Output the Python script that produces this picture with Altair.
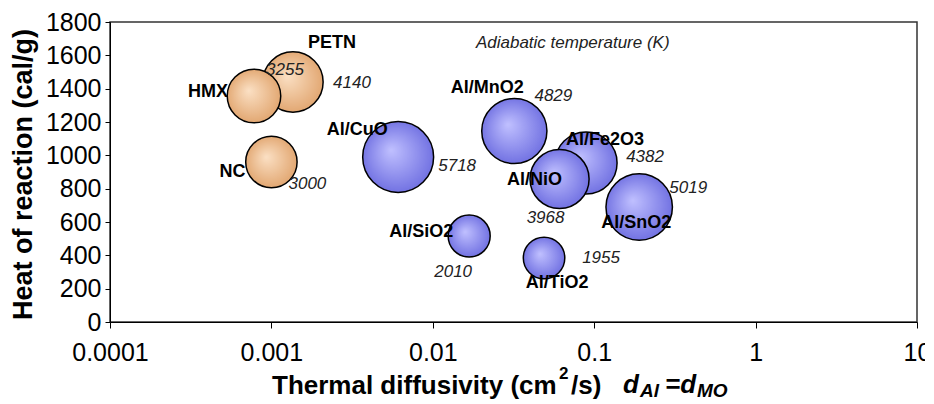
import altair as alt
import pandas as pd

# ---- data ----
names = ["PETN", "HMX", "NC", "Al/Fe2O3", "Al/MnO2", "Al/CuO", "Al/NiO", "Al/SnO2", "Al/SiO2", "Al/TiO2"]
diffusivity = [0.00136, 0.00078, 0.001, 0.089, 0.032, 0.0061, 0.061, 0.19, 0.0168, 0.0489]
heat = [1440, 1356, 960, 954, 1146, 990, 858, 690, 516, 384]
temperature = [4140, 3255, 3000, 4382, 4829, 5718, 3968, 5019, 2010, 1955]
group = ["explosive"] * 3 + ["thermite"] * 7

x_ticks = [0.0001, 0.001, 0.01, 0.1, 1, 10]
y_ticks = [0, 200, 400, 600, 800, 1000, 1200, 1400, 1600, 1800]

note_text = ["Adiabatic temperature (K)"]
note_x = [0.0185]
note_y = [1674]

df = pd.DataFrame({"name": names, "diff": diffusivity, "heat": heat,
                   "temp": temperature, "group": group})
df["temp_label"] = df["temp"].astype(str)

# ---- style (pixel offsets of labels relative to bubble centres) ----
name_offsets = {"PETN": (39, -39), "HMX": (-46, -4), "NC": (-39, 10), "Al/CuO": (-41, -27),
                "Al/MnO2": (-27, -43), "Al/Fe2O3": (19, -23), "Al/NiO": (-25, 1),
                "Al/SnO2": (-3, 16), "Al/SiO2": (-48, -4), "Al/TiO2": (13, 25)}
temp_offsets = {"PETN": (59, 1), "HMX": (31, -26), "NC": (36, 22), "Al/CuO": (59, 9),
                "Al/MnO2": (39, -35), "Al/Fe2O3": (59, -6), "Al/NiO": (-14, 39),
                "Al/SnO2": (49, -19), "Al/SiO2": (-16, 36), "Al/TiO2": (57, 0)}

FONT = "Liberation Sans"

x_enc = alt.X("diff:Q",
              scale=alt.Scale(type="log", domain=[0.0001, 10]),
              axis=alt.Axis(values=x_ticks, format="~g", grid=False, title=None,
                            labelFont=FONT, labelFontSize=25, labelColor="black",
                            labelPadding=12, tickSize=6, tickColor="black", tickCount=20,
                            domainColor="black", labelFlush=False, labelOverlap=False))
y_enc = alt.Y("heat:Q",
              scale=alt.Scale(domain=[0, 1800], nice=False),
              axis=alt.Axis(values=y_ticks, format="d", grid=False, tickCount=20,
                            title="Heat of reaction (cal/g)",
                            titleFont=FONT, titleFontSize=27, titleFontWeight="bold",
                            titleColor="black", titleX=-79, titleY=152,
                            titleBaseline="alphabetic", titleAlign="center", titleAngle=-90,
                            labelFont=FONT, labelFontSize=25, labelColor="black",
                            labelPadding=4, tickSize=5, tickColor="black",
                            domainColor="black", labelFlush=False, labelOverlap=False))
x_plain = alt.X("diff:Q")
y_plain = alt.Y("heat:Q")

size_enc = alt.Size("temp:Q", scale=alt.Scale(domain=[0, 6000], range=[0, 5280]), legend=None)

grad_orange = {"gradient": "radial", "x1": 0.4, "y1": 0.4, "r1": 0,
               "x2": 0.5, "y2": 0.5, "r2": 0.55,
               "stops": [{"offset": 0, "color": "#fbe0c4"},
                         {"offset": 1, "color": "#e0a36c"}]}
grad_blue = {"gradient": "radial", "x1": 0.4, "y1": 0.4, "r1": 0,
             "x2": 0.5, "y2": 0.5, "r2": 0.55,
             "stops": [{"offset": 0, "color": "#c0c0ff"},
                       {"offset": 1, "color": "#6c6ce0"}]}

base = alt.Chart(df)

bubbles_o = base.transform_filter(alt.datum.group == "explosive").mark_circle(
    fill=grad_orange, stroke="black", strokeWidth=1.5, opacity=1, fillOpacity=1
).encode(x=x_enc, y=y_enc, size=size_enc)

bubbles_b = base.transform_filter(alt.datum.group == "thermite").mark_circle(
    fill=grad_blue, stroke="black", strokeWidth=1.5, opacity=1, fillOpacity=1
).encode(x=x_plain, y=y_plain, size=size_enc)

layers = [bubbles_o, bubbles_b]

for n in names:
    dx, dy = name_offsets[n]
    layers.append(base.transform_filter(alt.datum.name == n).mark_text(
        dx=dx, dy=dy, font=FONT, fontSize=18, fontWeight="bold", color="black",
        align="center", baseline="middle"
    ).encode(x=x_plain, y=y_plain, text="name:N"))
    tx, ty = temp_offsets[n]
    layers.append(base.transform_filter(alt.datum.name == n).mark_text(
        dx=tx, dy=ty, font=FONT, fontSize=17, fontStyle="italic", color="#222222",
        align="center", baseline="middle"
    ).encode(x=x_plain, y=y_plain, text="temp_label:N"))

note_df = pd.DataFrame({"diff": note_x, "heat": note_y, "t": note_text})
layers.append(alt.Chart(note_df).mark_text(
    font=FONT, fontSize=17, fontStyle="italic", color="#222222",
    align="left", baseline="middle"
).encode(x=x_plain, y=y_plain, text="t:N"))

# x-axis title, built from fragments: Thermal diffusivity (cm^2/s)  d_Al = d_MO
title_parts = ["Thermal diffusivity (cm", "2", "/s)", "d", "Al", "=d", "MO"]
frag_df = pd.DataFrame({"t": title_parts})
frag_specs = [
    ("Thermal diffusivity (cm", 162, 372, 26, "normal"),
    ("2", 449, 357, 17, "normal"),
    ("/s)", 461, 372, 26, "normal"),
    ("d", 513, 371, 26, "italic"),
    ("Al", 530, 375, 19, "italic"),
    ("=d", 555, 371, 26, "italic"),
    ("MO", 587, 375, 19, "italic"),
]
for t, px, py, fs, st in frag_specs:
    layers.append(alt.Chart(frag_df).transform_filter(alt.datum.t == t).mark_text(
        font=FONT, fontSize=fs, fontWeight="bold", fontStyle=st, color="black",
        align="left", baseline="alphabetic"
    ).encode(x=alt.value(px), y=alt.value(py), text="t:N"))

chart = alt.layer(*layers).properties(
    width=807, height=300,
    autosize=alt.AutoSizeParams(type="none"),
    padding={"left": 102, "top": 14, "right": 8, "bottom": 80},
    background="white"
).configure_view(stroke="#333333", strokeWidth=1.5)

chart.save("out.html", embed_options={"renderer": "svg", "actions": False})
